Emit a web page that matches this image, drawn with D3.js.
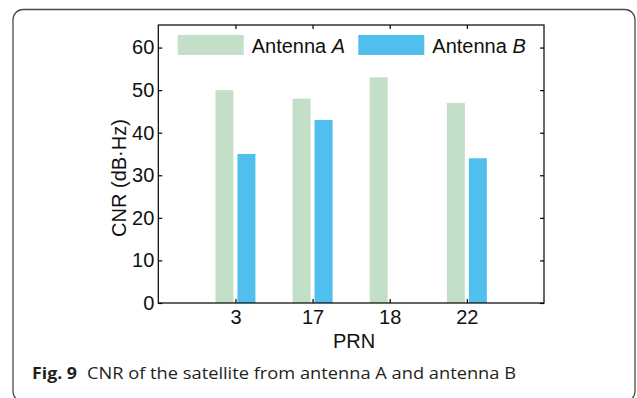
<!DOCTYPE html>
<html>
<head>
<meta charset="utf-8">
<script src="https://cdn.jsdelivr.net/npm/d3@7"></script>
<style>
  html, body { margin: 0; padding: 0; background: #fff; }
  svg { display: block; }
</style>
</head>
<body>
<svg id="chart" width="637" height="398"></svg>
<script>
// PRN categories and carrier-to-noise ratio per antenna (dB·Hz)
const prns = ["3", "17", "18", "22"];
const antennaA = [50, 48, 53, 47];
const antennaB = [35, 43, null, 34];
const yTicks = [0, 10, 20, 30, 40, 50, 60];
const seriesNames = ["Antenna ", "Antenna "];
const seriesItalic = ["A", "B"];
const seriesColors = ["#c3dfc8", "#51bfed"];

const svg = d3.select("#chart");
const plot = { left: 158.3, right: 544, top: 25, bottom: 303 };

// caption frame
svg.append("rect")
  .attr("x", 13).attr("y", 9.5)
  .attr("width", 622).attr("height", 392)
  .attr("rx", 10).attr("ry", 10)
  .attr("fill", "none").attr("stroke", "#4a4a4a").attr("stroke-width", 1.3);

// categories sit at 1..4 on a 0..5 axis
const x = d3.scaleLinear().domain([0, prns.length + 1]).range([plot.left, plot.right]);
const y = d3.scaleLinear().domain([0, 65.3]).range([plot.bottom, plot.top]);

const barW = 18, offset = 11;
const g = svg.append("g");

const rows = prns.map((p, i) => ({ p, i, a: antennaA[i], b: antennaB[i] }));

g.selectAll("rect.barA").data(rows).join("rect")
  .attr("class", "barA")
  .attr("x", d => x(d.i + 1) - offset - barW / 2)
  .attr("y", d => y(d.a))
  .attr("width", barW)
  .attr("height", d => y(0) - y(d.a))
  .attr("fill", seriesColors[0]);

g.selectAll("rect.barB").data(rows.filter(d => d.b != null)).join("rect")
  .attr("class", "barB")
  .attr("x", d => x(d.i + 1) + offset - barW / 2)
  .attr("y", d => y(d.b))
  .attr("width", barW)
  .attr("height", d => y(0) - y(d.b))
  .attr("fill", seriesColors[1]);

const font = "'Liberation Sans', Arial, sans-serif";
const tickLen = 4;
const catTicks = d3.range(1, prns.length + 1);

// bottom axis with inward ticks
const axBottom = svg.append("g").attr("transform", `translate(0,${plot.bottom})`)
  .call(d3.axisBottom(x).tickValues(catTicks).tickSize(-tickLen).tickPadding(7)
    .tickFormat(d => prns[d - 1]));
// top mirror ticks
const axTop = svg.append("g").attr("transform", `translate(0,${plot.top})`)
  .call(d3.axisTop(x).tickValues(catTicks).tickSize(-tickLen).tickFormat(""));
// left axis
const axLeft = svg.append("g").attr("transform", `translate(${plot.left},0)`)
  .call(d3.axisLeft(y).tickValues(yTicks).tickSize(-tickLen).tickPadding(4));
// right mirror ticks
const axRight = svg.append("g").attr("transform", `translate(${plot.right},0)`)
  .call(d3.axisRight(y).tickValues(yTicks).tickSize(-tickLen).tickFormat(""));

[axBottom, axTop, axLeft, axRight].forEach(ax => {
  ax.select(".domain").remove();
  ax.selectAll(".tick line").attr("stroke", "#000").attr("stroke-width", 1.2);
  ax.selectAll(".tick text").attr("font-family", font).attr("font-size", 20).attr("fill", "#111");
});

// plot frame
svg.append("rect")
  .attr("x", plot.left).attr("y", plot.top)
  .attr("width", plot.right - plot.left).attr("height", plot.bottom - plot.top)
  .attr("fill", "none").attr("stroke", "#000").attr("stroke-width", 1.2);

// axis titles
svg.append("text")
  .attr("x", (plot.left + plot.right) / 2 + 3).attr("y", 347.5)
  .attr("text-anchor", "middle")
  .attr("font-family", font).attr("font-size", 20).attr("fill", "#111")
  .text("PRN");

svg.append("text")
  .attr("transform", "translate(126,178) rotate(-90)")
  .attr("text-anchor", "middle")
  .attr("font-family", font).attr("font-size", 20).attr("fill", "#111")
  .text("CNR (dB·Hz)");

// legend
const legendX = [177.7, 358.3];
seriesColors.forEach((c, i) => {
  svg.append("rect")
    .attr("x", legendX[i]).attr("y", 35)
    .attr("width", 66).attr("height", 20)
    .attr("fill", c);
  const t = svg.append("text")
    .attr("x", legendX[i] + 74).attr("y", 53)
    .attr("font-family", font).attr("font-size", 20).attr("fill", "#111");
  t.append("tspan").text(seriesNames[i]);
  t.append("tspan").attr("font-style", "italic").text(seriesItalic[i]);
});

// figure caption
const cap = svg.append("text")
  .attr("x", 32).attr("y", 379)
  .attr("font-family", "'Open Sans', 'Noto Sans', sans-serif")
  .attr("font-size", 15.5).attr("fill", "#231f20");
cap.append("tspan").attr("font-weight", "bold").attr("textLength", 45)
  .attr("lengthAdjust", "spacingAndGlyphs").text("Fig. 9");
cap.append("tspan").attr("x", 87).attr("textLength", 429).attr("lengthAdjust", "spacingAndGlyphs")
  .text("CNR of the satellite from antenna A and antenna B");
</script>
</body>
</html>
